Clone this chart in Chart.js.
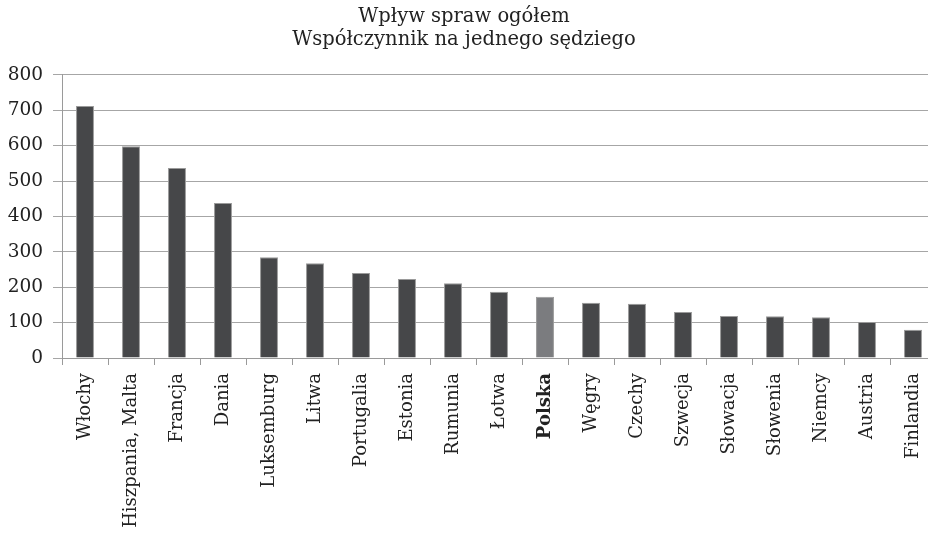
<!DOCTYPE html>
<html>
<head>
<meta charset="utf-8">
<script src="https://cdn.jsdelivr.net/npm/chart.js@4"></script>
<style>
  html, body { margin: 0; background: #fff; overflow: hidden; }
  #chart { display: block; }
</style>
</head>
<body>
<canvas id="chart" width="928" height="545"></canvas>
<script>
// values
const countries = ["Włochy", "Hiszpania, Malta", "Francja", "Dania", "Luksemburg", "Litwa",
  "Portugalia", "Estonia", "Rumunia", "Łotwa", "Polska", "Węgry", "Czechy", "Szwecja",
  "Słowacja", "Słowenia", "Niemcy", "Austria", "Finlandia"];
const caseRatio = [712, 598, 537, 438, 285, 268, 240, 223, 211, 187, 173, 156, 153, 130, 119, 118, 115, 102, 80];
const titleLines = ["Wpływ spraw ogółem", "Współczynnik na jednego sędziego"];

const highlight = "Polska";
const serif = "'DejaVu Serif', serif";

const barColors = countries.map(c => c === highlight ? "#7b7c7f" : "#464749");

// in the reference the plot runs a few px past the right edge of the picture
const overhang = {
  id: "overhang",
  afterLayout(chart) {
    const extra = chart.width + 8 - chart.chartArea.right;
    chart.chartArea.right += extra;
    chart.chartArea.width += extra;
    const x = chart.scales.x;
    x.right += extra;
    x.width += extra;
    x.configure();
  }
};

const chart = new Chart(document.getElementById("chart"), {
  type: "bar",
  data: {
    labels: countries,
    datasets: [{
      data: caseRatio,
      backgroundColor: barColors,
      borderColor: "#9a9a9a",
      borderWidth: {top: 1, left: 1, right: 1, bottom: 0},
      categoryPercentage: 1,
      barPercentage: 0.39
    }]
  },
  plugins: [overhang],
  options: {
    responsive: false,
    animation: false,
    layout: { padding: { left: 0, right: 0, top: 0, bottom: 0 } },
    plugins: {
      legend: { display: false },
      tooltip: { enabled: false },
      title: {
        display: true,
        text: titleLines,
        color: "#222",
        font: { family: serif, size: 19.5, weight: "normal", lineHeight: 1.15 },
        padding: { top: 6, bottom: 24 }
      }
    },
    scales: {
      x: {
        offset: true,
        grid: {
          display: true,
          offset: true,
          drawOnChartArea: false,
          drawTicks: true,
          tickLength: 7,
          color: "#9a9a9a"
        },
        border: { color: "#9a9a9a" },
        ticks: {
          autoSkip: false,
          minRotation: 90,
          maxRotation: 90,
          padding: 8,
          color: "#222",
          font: ctx => ({
            family: serif,
            size: 18,
            weight: countries[ctx.index] === highlight ? "bold" : "normal"
          })
        },
        afterFit: scale => { scale.height = 187; }
      },
      y: {
        min: 0,
        max: 800,
        grid: {
          color: "#a6a6a6",
          tickLength: 9,
          lineWidth: 1
        },
        border: { color: "#9a9a9a" },
        ticks: {
          stepSize: 100,
          padding: 10,
          color: "#222",
          font: { family: serif, size: 18.5 }
        },
        afterFit: scale => { scale.width = 62; }
      }
    }
  }
});
</script>
</body>
</html>
